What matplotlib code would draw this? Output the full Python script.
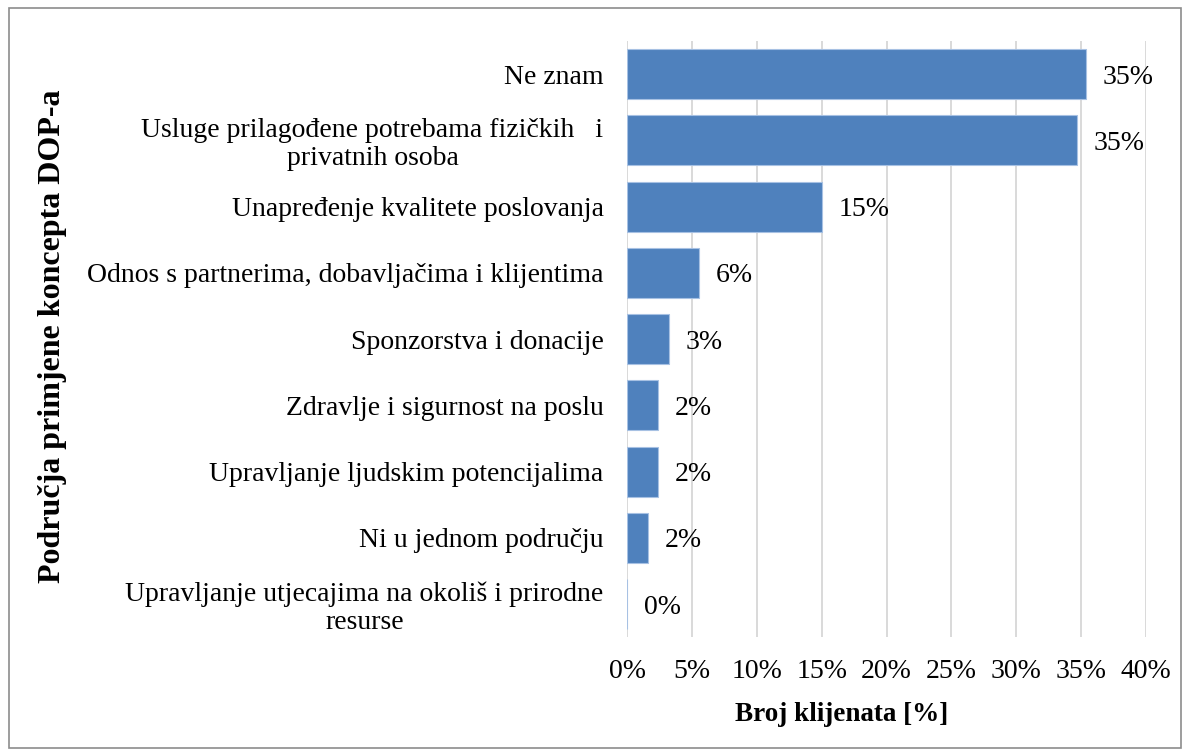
import matplotlib
matplotlib.use("Agg")
import matplotlib.pyplot as plt
from matplotlib.patches import Rectangle

# data (top to bottom as in the chart)
categories = [
    "Ne znam",
    "Usluge prilagođene potrebama fizičkih   i\nprivatnih osoba",
    "Unapređenje kvalitete poslovanja",
    "Odnos s partnerima, dobavljačima i klijentima",
    "Sponzorstva i donacije",
    "Zdravlje i sigurnost na poslu",
    "Upravljanje ljudskim potencijalima",
    "Ni u jednom području",
    "Upravljanje utjecajima na okoliš i prirodne\nresurse",
]
values = [35.4, 34.7, 15.0, 5.55, 3.2, 2.4, 2.4, 1.6, 0.0]
xticks = [0, 5, 10, 15, 20, 25, 30, 35, 40]

plt.rcParams['font.family'] = ['Liberation Serif', 'DejaVu Serif']
same_font = 20

fig = plt.figure(figsize=(11.9, 7.54), dpi=100, facecolor='w')
ax = fig.add_axes([0.527, 0.155, 0.436, 0.7905])

pos = list(range(len(categories)))
bars = ax.barh(pos, values, height=0.755, color='#4f81bd',
               edgecolor='#a7c1e3', linewidth=0.8, zorder=3)
ax.set_ylim(len(categories) - 0.5, -0.5)
ax.set_xlim(0, 40)

for p, v in zip(pos, values):
    ax.annotate(f"{v:.0f}%", xy=(v, p), xytext=(12, 0),
                textcoords='offset points', ha='left', va='center_baseline',
                fontsize=same_font, color='black')

ax.set_yticks(pos)
ax.set_yticklabels(categories, fontsize=same_font, multialignment='center',
                   linespacing=1.12)
ax.set_xticks(xticks)
ax.set_xticklabels([f"{t}%" for t in xticks], fontsize=same_font)
ax.tick_params(axis='both', length=0)
ax.tick_params(axis='y', pad=17)
ax.tick_params(axis='x', pad=16)

ax.grid(axis='x', color='#d9d9d9', linewidth=1.4, zorder=0)
for s in ax.spines.values():
    s.set_visible(False)

fig.text(0.7076, 0.052, "Broj klijenata [%]", ha='center', va='center',
         fontsize=19.5, fontweight='bold')
fig.text(0.044, 0.554, "Područja primjene koncepta DOP-a", ha='center',
         va='center', rotation=90, fontsize=23, fontweight='bold')

# outer frame
fig.patches.append(Rectangle((0.0075, 0.008), 0.985, 0.981, transform=fig.transFigure,
                             fill=False, edgecolor='#8c8c8c', linewidth=1.2))

fig.savefig("out.png", dpi=100, facecolor='w')
